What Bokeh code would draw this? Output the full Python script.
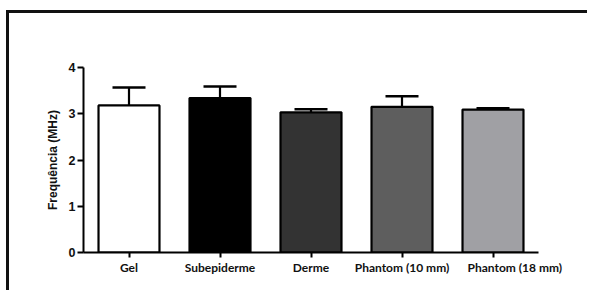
from bokeh.plotting import figure
from bokeh.models import (Range1d, Whisker, TeeHead, ColumnDataSource, FixedTicker)
from bokeh.embed import file_html
from bokeh.resources import INLINE

categories = ["Gel", "Subepiderme", "Derme", "Phantom (10 mm)", "Phantom (18 mm)"]
means = [3.18, 3.34, 3.03, 3.15, 3.09]
errors = [0.39, 0.25, 0.07, 0.23, 0.03]
colors = ["#ffffff", "#000000", "#333333", "#5e5e5e", "#a0a0a4"]
y_ticks = [0, 1, 2, 3, 4]
y_label = "Frequência (MHz)"

bar_width = 0.67
# category slots: one unit per category, centred at i + 0.5
xpos = [i + 0.5 for i in range(len(categories))]
upper = [m + e for m, e in zip(means, errors)]
src = ColumnDataSource(dict(x=xpos, mean=means, upper=upper, color=colors))

p = figure(width=587, height=290,
           x_range=Range1d(0, len(categories)),
           y_range=Range1d(0, 4),
           output_backend="svg", toolbar_location=None,
           min_border_left=83, min_border_right=49,
           min_border_top=67, min_border_bottom=38)

p.border_fill_color = None
p.styles = {
    "background": ("linear-gradient(#111,#111) 6px 10px / 3px 100% no-repeat, "
                   "linear-gradient(#111,#111) 6px 10px / 100% 3px no-repeat, #ffffff"),
}

p.vbar(x="x", top="mean", bottom=0, width=bar_width, source=src,
       fill_color="color", line_color="black", line_width=2.2)

wh = Whisker(base="x", lower="mean", upper="upper", source=src,
             line_color="black", line_width=2.2,
             upper_head=TeeHead(size=33, line_color="black", line_width=2.5),
             lower_head=None, level="glyph")
p.add_layout(wh)

p.xgrid.visible = False
p.ygrid.visible = False
p.outline_line_color = None

yax = p.yaxis[0]
yax.ticker = FixedTicker(ticks=y_ticks)
yax.axis_line_width = 2
yax.major_tick_line_width = 2
yax.major_tick_out = 6
yax.major_tick_in = 0
yax.minor_tick_line_color = None
yax.major_label_text_font = "Liberation Sans"
yax.major_label_text_font_style = "bold"
yax.major_label_text_font_size = "12.5px"
yax.major_label_text_color = "#111111"
yax.major_label_standoff = 2
yax.axis_label = y_label
yax.axis_label_text_font = "Liberation Sans"
yax.axis_label_text_font_style = "bold"
yax.axis_label_text_font_size = "12px"
yax.axis_label_text_color = "#111111"
yax.axis_label_standoff = 6

x_font = "Lato"
x_size = "12px"
xax = p.xaxis[0]
xax.ticker = FixedTicker(ticks=xpos, minor_ticks=[])
xax.minor_tick_line_color = None
xax.axis_line_width = 2
xax.major_tick_line_width = 2
xax.major_tick_out = 5
xax.major_tick_in = 0
xax.major_label_text_font = x_font
xax.major_label_text_font_style = "bold"
xax.major_label_text_font_size = x_size
xax.major_label_text_color = "#111111"
xax.major_label_standoff = 2
overrides = {x: c for x, c in zip(xpos, categories)}
# in the original the last label is nudged right (it starts at its bar's left edge)
overrides[xpos[-1]] = "\u00a0" * 15 + categories[-1]
xax.major_label_overrides = overrides

open("out.html", "w").write(file_html(p, INLINE))
